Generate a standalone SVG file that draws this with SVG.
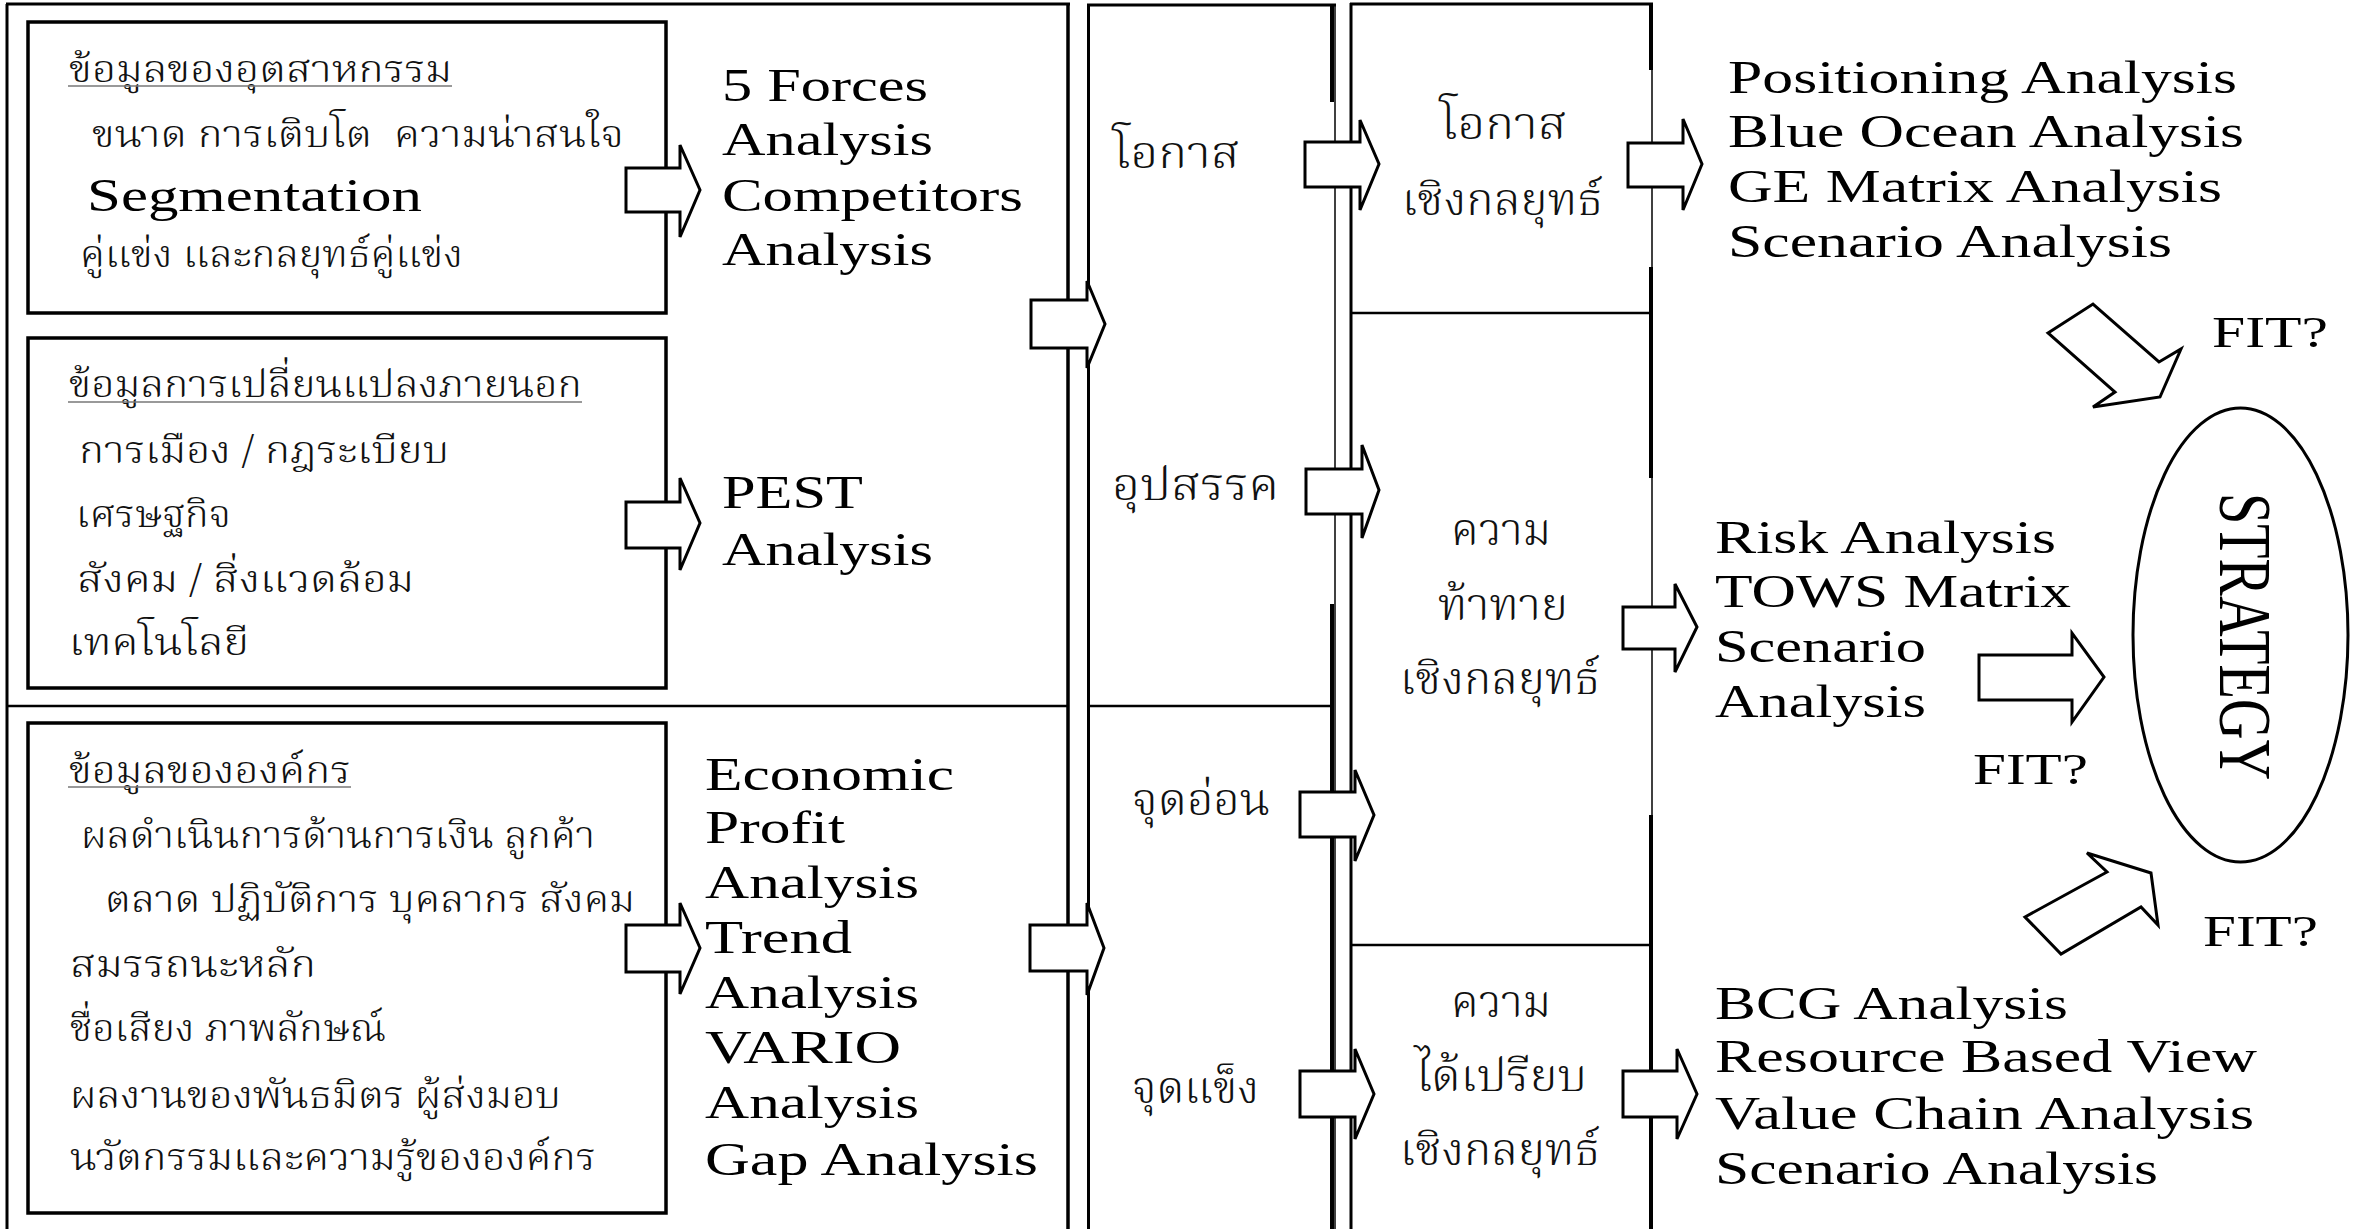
<svg xmlns="http://www.w3.org/2000/svg" width="2357" height="1229" viewBox="0 0 2357 1229">
  <style>
    .ln { stroke: #000; fill: none; }
    .box { stroke: #000; stroke-width: 3.5; fill: none; }
    .ul { stroke: #777; stroke-width: 1.6; }
    .arrow { fill: #fff; stroke: #000; stroke-width: 3; stroke-linejoin: miter; }
    .en { font-family: "Liberation Serif", "Times New Roman", serif; font-size: 47px; fill: #000; }
    .fit { font-family: "Liberation Serif", "Times New Roman", serif; font-size: 45px; fill: #000; }
    .th { font-family: "Noto Serif Thai", "Liberation Serif", serif; font-size: 38px; font-weight: 300; fill: #111; }
    .thc { font-family: "Noto Serif Thai", "Liberation Serif", serif; font-size: 44px; font-weight: 300; fill: #111; }
  </style>

  <rect width="2357" height="1229" fill="#fff"/>

  <!-- column frames -->
  <g id="frames">
    <!-- column 1: information sources -->
    <line class="ln" x1="7" y1="4" x2="7" y2="1229" stroke-width="3"/>
    <line class="ln" x1="6" y1="4" x2="1070" y2="4" stroke-width="3"/>
    <line class="ln" x1="1068" y1="3" x2="1068" y2="1229" stroke-width="3.5"/>
    <line class="ln" x1="7" y1="706" x2="1068" y2="706" stroke-width="2.5"/>
    <!-- column 2: SWOT -->
    <line class="ln" x1="1088.5" y1="4" x2="1088.5" y2="1229" stroke-width="3"/>
    <line class="ln" x1="1087" y1="5" x2="1336" y2="5" stroke-width="3"/>
    <line class="ln" x1="1335" y1="5" x2="1335" y2="1229" stroke-width="1.5"/>
    <line class="ln" x1="1332" y1="4" x2="1332" y2="102" stroke-width="4"/>
    <line class="ln" x1="1332" y1="604" x2="1332" y2="1229" stroke-width="4"/>
    <line class="ln" x1="1089" y1="706" x2="1333" y2="706" stroke-width="2.5"/>
    <!-- column 3: strategic issues -->
    <line class="ln" x1="1351" y1="3" x2="1351" y2="1229" stroke-width="3"/>
    <line class="ln" x1="1350" y1="4" x2="1653" y2="4" stroke-width="3"/>
    <line class="ln" x1="1652" y1="4" x2="1652" y2="1229" stroke-width="1.5"/>
    <line class="ln" x1="1651" y1="3" x2="1651" y2="70" stroke-width="4"/>
    <line class="ln" x1="1651" y1="267" x2="1651" y2="478" stroke-width="4"/>
    <line class="ln" x1="1651" y1="815" x2="1651" y2="1229" stroke-width="4"/>
    <line class="ln" x1="1351" y1="313" x2="1651" y2="313" stroke-width="2.5"/>
    <line class="ln" x1="1351" y1="945" x2="1651" y2="945" stroke-width="2.5"/>
  </g>

  <!-- information boxes -->
  <g id="industry-info">
    <rect class="box" x="28" y="22" width="638" height="291"/>
    <text class="th" x="69" y="82" textLength="383" lengthAdjust="spacingAndGlyphs">ข้อมูลของอุตสาหกรรม</text>
    <line class="ul" x1="68" y1="86" x2="452" y2="86"/>
    <text class="th" x="92" y="147" textLength="532" lengthAdjust="spacingAndGlyphs" style="white-space:pre">ขนาด การเติบโต  ความน่าสนใจ</text>
    <text class="en" x="87" y="211" textLength="335" lengthAdjust="spacingAndGlyphs">Segmentation</text>
    <text class="th" x="80" y="267" textLength="383" lengthAdjust="spacingAndGlyphs">คู่แข่ง และกลยุทธ์คู่แข่ง</text>
  </g>

  <g id="external-info">
    <rect class="box" x="28" y="338" width="638" height="350"/>
    <text class="th" x="69" y="397" textLength="513" lengthAdjust="spacingAndGlyphs">ข้อมูลการเปลี่ยนแปลงภายนอก</text>
    <line class="ul" x1="68" y1="402" x2="582" y2="402"/>
    <text class="th" x="79" y="463" textLength="370" lengthAdjust="spacingAndGlyphs">การเมือง / กฎระเบียบ</text>
    <text class="th" x="76" y="527" textLength="155" lengthAdjust="spacingAndGlyphs">เศรษฐกิจ</text>
    <text class="th" x="77" y="592" textLength="337" lengthAdjust="spacingAndGlyphs">สังคม / สิ่งแวดล้อม</text>
    <text class="th" x="69" y="655" textLength="180" lengthAdjust="spacingAndGlyphs">เทคโนโลยี</text>
  </g>

  <g id="org-info">
    <rect class="box" x="28" y="723" width="638" height="490"/>
    <text class="th" x="69" y="783" textLength="282" lengthAdjust="spacingAndGlyphs">ข้อมูลขององค์กร</text>
    <line class="ul" x1="68" y1="787" x2="351" y2="787"/>
    <text class="th" x="81" y="848" textLength="514" lengthAdjust="spacingAndGlyphs">ผลดำเนินการด้านการเงิน ลูกค้า</text>
    <text class="th" x="105" y="912" textLength="530" lengthAdjust="spacingAndGlyphs">ตลาด ปฏิบัติการ บุคลากร สังคม</text>
    <text class="th" x="70" y="977" textLength="246" lengthAdjust="spacingAndGlyphs">สมรรถนะหลัก</text>
    <text class="th" x="70" y="1041" textLength="316" lengthAdjust="spacingAndGlyphs">ชื่อเสียง ภาพลักษณ์</text>
    <text class="th" x="70" y="1108" textLength="491" lengthAdjust="spacingAndGlyphs">ผลงานของพันธมิตร ผู้ส่งมอบ</text>
    <text class="th" x="70" y="1170" textLength="526" lengthAdjust="spacingAndGlyphs">นวัตกรรมและความรู้ขององค์กร</text>
  </g>

  <!-- analysis tools, column 1 -->
  <g id="forces-analysis">
    <text class="en" x="722" y="101" textLength="206" lengthAdjust="spacingAndGlyphs">5 Forces</text>
    <text class="en" x="722" y="155" textLength="211" lengthAdjust="spacingAndGlyphs">Analysis</text>
    <text class="en" x="722" y="211" textLength="301" lengthAdjust="spacingAndGlyphs">Competitors</text>
    <text class="en" x="722" y="265" textLength="211" lengthAdjust="spacingAndGlyphs">Analysis</text>
  </g>

  <g id="pest-analysis">
    <text class="en" x="722" y="508" textLength="141" lengthAdjust="spacingAndGlyphs">PEST</text>
    <text class="en" x="722" y="565" textLength="211" lengthAdjust="spacingAndGlyphs">Analysis</text>
  </g>

  <g id="internal-analysis">
    <text class="en" x="705" y="790" textLength="249" lengthAdjust="spacingAndGlyphs">Economic</text>
    <text class="en" x="705" y="843" textLength="140" lengthAdjust="spacingAndGlyphs">Profit</text>
    <text class="en" x="705" y="898" textLength="214" lengthAdjust="spacingAndGlyphs">Analysis</text>
    <text class="en" x="705" y="953" textLength="147" lengthAdjust="spacingAndGlyphs">Trend</text>
    <text class="en" x="705" y="1008" textLength="214" lengthAdjust="spacingAndGlyphs">Analysis</text>
    <text class="en" x="705" y="1063" textLength="196" lengthAdjust="spacingAndGlyphs">VARIO</text>
    <text class="en" x="705" y="1118" textLength="214" lengthAdjust="spacingAndGlyphs">Analysis</text>
    <text class="en" x="705" y="1175" textLength="333" lengthAdjust="spacingAndGlyphs">Gap Analysis</text>
  </g>

  <!-- SWOT column -->
  <g id="opportunity">
    <text class="thc" x="1113" y="168" textLength="127" lengthAdjust="spacingAndGlyphs">โอกาส</text>
  </g>
  <g id="threat">
    <text class="thc" x="1112" y="500" textLength="167" lengthAdjust="spacingAndGlyphs">อุปสรรค</text>
  </g>
  <g id="weakness">
    <text class="thc" x="1132" y="815" textLength="138" lengthAdjust="spacingAndGlyphs">จุดอ่อน</text>
  </g>
  <g id="strength">
    <text class="thc" x="1132" y="1103" textLength="127" lengthAdjust="spacingAndGlyphs">จุดแข็ง</text>
  </g>

  <!-- strategic issues column -->
  <g id="strategic-opportunity">
    <text class="thc" x="1440" y="139" textLength="127" lengthAdjust="spacingAndGlyphs">โอกาส</text>
    <text class="thc" x="1402" y="215" textLength="201" lengthAdjust="spacingAndGlyphs">เชิงกลยุทธ์</text>
  </g>
  <g id="strategic-challenge">
    <text class="thc" x="1451" y="545" textLength="100" lengthAdjust="spacingAndGlyphs">ความ</text>
    <text class="thc" x="1438" y="620" textLength="130" lengthAdjust="spacingAndGlyphs">ท้าทาย</text>
    <text class="thc" x="1400" y="694" textLength="200" lengthAdjust="spacingAndGlyphs">เชิงกลยุทธ์</text>
  </g>
  <g id="strategic-advantage">
    <text class="thc" x="1451" y="1017" textLength="100" lengthAdjust="spacingAndGlyphs">ความ</text>
    <text class="thc" x="1415" y="1091" textLength="172" lengthAdjust="spacingAndGlyphs">ได้เปรียบ</text>
    <text class="thc" x="1400" y="1165" textLength="200" lengthAdjust="spacingAndGlyphs">เชิงกลยุทธ์</text>
  </g>

  <!-- strategy tools -->
  <g id="opportunity-tools">
    <text class="en" x="1728" y="93" textLength="509" lengthAdjust="spacingAndGlyphs">Positioning Analysis</text>
    <text class="en" x="1728" y="147" textLength="516" lengthAdjust="spacingAndGlyphs">Blue Ocean Analysis</text>
    <text class="en" x="1728" y="202" textLength="494" lengthAdjust="spacingAndGlyphs">GE Matrix Analysis</text>
    <text class="en" x="1728" y="257" textLength="444" lengthAdjust="spacingAndGlyphs">Scenario Analysis</text>
  </g>
  <g id="challenge-tools">
    <text class="en" x="1715" y="553" textLength="341" lengthAdjust="spacingAndGlyphs">Risk Analysis</text>
    <text class="en" x="1715" y="607" textLength="356" lengthAdjust="spacingAndGlyphs">TOWS Matrix</text>
    <text class="en" x="1715" y="662" textLength="211" lengthAdjust="spacingAndGlyphs">Scenario</text>
    <text class="en" x="1715" y="717" textLength="211" lengthAdjust="spacingAndGlyphs">Analysis</text>
  </g>
  <g id="advantage-tools">
    <text class="en" x="1715" y="1019" textLength="353" lengthAdjust="spacingAndGlyphs">BCG Analysis</text>
    <text class="en" x="1715" y="1072" textLength="542" lengthAdjust="spacingAndGlyphs">Resource Based View</text>
    <text class="en" x="1715" y="1129" textLength="539" lengthAdjust="spacingAndGlyphs">Value Chain Analysis</text>
    <text class="en" x="1715" y="1184" textLength="443" lengthAdjust="spacingAndGlyphs">Scenario Analysis</text>
  </g>

  <g id="strategy">
    <ellipse cx="2240.5" cy="635" rx="107.5" ry="227" fill="none" stroke="#000" stroke-width="3"/>
    <text transform="translate(2220,493) rotate(90)" x="0" y="0" font-family="Liberation Serif, serif" font-size="74" textLength="287" lengthAdjust="spacingAndGlyphs">STRATEGY</text>
  </g>

  <!-- block arrows between stages -->
  <g id="connectors">
    <polygon class="arrow" points="626,168 680,168 680,145 700,190 680,237 680,212 626,212"/>
    <polygon class="arrow" points="626,502 680,502 680,478 700,523 680,570 680,548 626,548"/>
    <polygon class="arrow" points="626,925 680,925 680,903 700,948 680,994 680,972 626,972"/>
    <polygon class="arrow" points="1031,300 1087,300 1087,281 1105,324 1087,368 1087,348 1031,348"/>
    <polygon class="arrow" points="1030,925 1087,925 1087,903 1104,948 1087,995 1087,971 1030,971"/>
    <polygon class="arrow" points="1305,142 1360,142 1360,120 1379,164 1360,210 1360,187 1305,187"/>
    <polygon class="arrow" points="1306,469 1362,469 1362,445 1379,490 1362,538 1362,514 1306,514"/>
    <polygon class="arrow" points="1300,792 1355,792 1355,770 1374,815 1355,861 1355,837 1300,837"/>
    <polygon class="arrow" points="1300,1071 1355,1071 1355,1049 1374,1094 1355,1139 1355,1117 1300,1117"/>
    <polygon class="arrow" points="1628,143 1683,143 1683,119 1702,164 1683,210 1683,187 1628,187"/>
    <polygon class="arrow" points="1623,607 1675,607 1675,584 1697,627 1675,672 1675,649 1623,649"/>
    <polygon class="arrow" points="1623,1071 1677,1071 1677,1049 1697,1094 1677,1139 1677,1117 1623,1117"/>
    <polygon class="arrow" points="1979,655 2072,655 2072,633 2104,677 2072,722 2072,700 1979,700"/>
    <polygon class="arrow" points="2048,333 2093,304 2159,362 2181,349 2160,397 2093,407 2115,392"/>
    <polygon class="arrow" points="2025,917 2107,872 2087,853 2151,873 2158,925 2141,907 2061,954"/>
    <text class="fit" x="2212" y="347" textLength="116" lengthAdjust="spacingAndGlyphs">FIT?</text>
    <text class="fit" x="1973" y="784" textLength="115" lengthAdjust="spacingAndGlyphs">FIT?</text>
    <text class="fit" x="2203" y="946" textLength="115" lengthAdjust="spacingAndGlyphs">FIT?</text>
  </g>
</svg>
